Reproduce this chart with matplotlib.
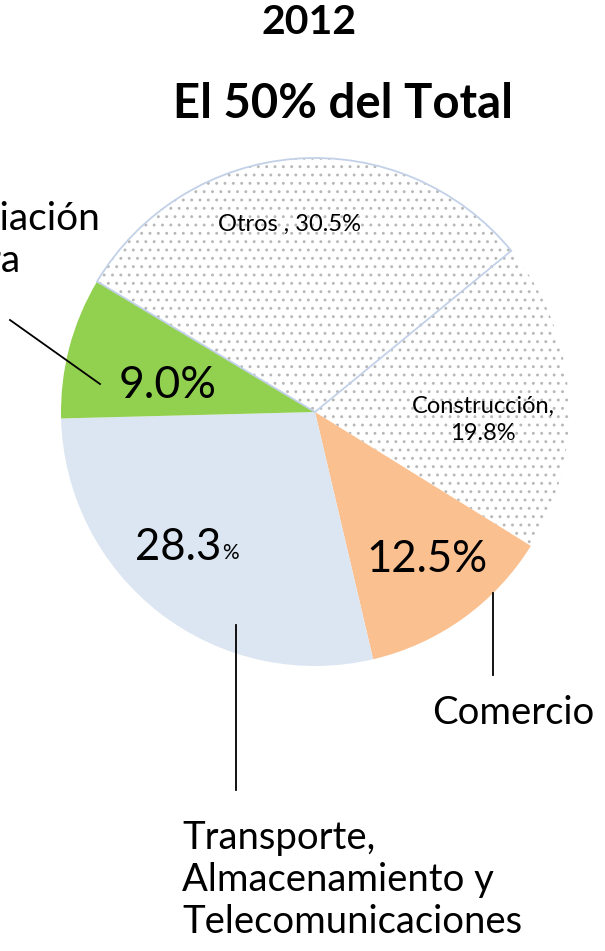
import matplotlib.pyplot as plt

# valores del grafico (orden horario desde Construccion)
sectors = ['Construcción', 'Comercio', 'Transporte, Almacenamiento y Telecomunicaciones',
           'Intermediación Financiera', 'Otros']
shares = [19.8, 12.5, 28.3, 9.0, 30.5]
colors = ['white', '#FAC090', '#DCE6F2', '#92D050', 'white']
dotted = [True, False, False, False, True]

W, H = 605, 951
FONT = 'Lato'
plt.rcParams['hatch.linewidth'] = 0.9

fig = plt.figure(figsize=(W / 100, H / 100), dpi=100)
ax = fig.add_axes([0, 0, 1, 1])

def py(y):
    return H - y

wedges, _ = ax.pie(shares, colors=colors, startangle=39.4, counterclock=False,
                   center=(315, py(412)), radius=254,
                   wedgeprops=dict(linewidth=0))

for w, d in zip(wedges, dotted):
    if d:
        w.set_hatch('..')
        w.set_edgecolor('#B8B8B8')
        w.set_linewidth(0)

# contorno de "Otros"
ax.pie(shares, colors=['none'] * 5, startangle=39.4, counterclock=False,
       center=(315, py(412)), radius=254,
       wedgeprops=dict(linewidth=1.3, edgecolor='none'))
outline = ax.patches[-1]
outline.set_edgecolor('#C3D1E8')

ax.set_xlim(0, W)
ax.set_ylim(0, H)
ax.set_aspect('equal')
ax.axis('off')

# titulos
ax.text(309, py(22), '2012', ha='center', va='center', fontsize=29.5,
        fontweight='bold', family=FONT)
ax.text(343, py(104), 'El 50% del Total', ha='center', va='center', fontsize=34,
        fontweight='bold', family=FONT)

# etiquetas dentro del pastel
ax.text(290, py(224), f'Otros , {shares[4]:.1f}%', ha='center', va='center',
        fontsize=17, family=FONT)
ax.text(483, py(420), f'Construcción,\n{shares[0]:.1f}%', ha='center', va='center',
        fontsize=17, family=FONT, linespacing=1.35)
ax.text(168, py(385), f'{shares[3]:.1f}%', ha='center', va='center',
        fontsize=32, family=FONT)
ax.text(427, py(560), f'{shares[1]:.1f}%', ha='center', va='center',
        fontsize=31.5, family=FONT)
ax.text(221, py(547), f'{shares[2]:.1f}', ha='right', va='center',
        fontsize=31.5, family=FONT)
ax.text(222, py(553), '%', ha='left', va='center', fontsize=15, family=FONT)

# etiquetas externas y lineas guia
ax.text(100, py(240), 'Intermediación\nFinanciera', ha='right', va='center',
        multialignment='left', fontsize=28, family=FONT, linespacing=1.2)
ax.plot([10, 100], [py(320), py(384)], color='black', lw=1.3)

ax.text(513, py(713), 'Comercio', ha='center', va='center', fontsize=27.5, family=FONT)
ax.plot([493, 493], [py(593), py(675)], color='black', lw=1.3)

ax.text(182, py(880), 'Transporte,\nAlmacenamiento y\nTelecomunicaciones', ha='left',
        va='center', fontsize=27.5, family=FONT, linespacing=1.2)
ax.plot([236, 236], [py(625), py(790)], color='black', lw=1.3)

fig.savefig('out.png', dpi=100)
